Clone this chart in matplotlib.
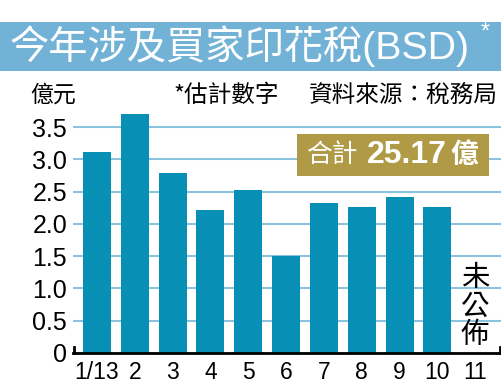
import matplotlib
matplotlib.use("Agg")
import matplotlib.pyplot as plt
from matplotlib.patches import Rectangle

# 每月涉及買家印花稅 (億元)
months = ["1/13", "2", "3", "4", "5", "6", "7", "8", "9", "10", "11"]
bsd = [3.12, 3.71, 2.79, 2.22, 2.53, 1.50, 2.32, 2.27, 2.42, 2.26]
yticks = [0, 0.5, 1.0, 1.5, 2.0, 2.5, 3.0, 3.5]
ytick_labels = ["0", "0.5", "1.0", "1.5", "2.0", "2.5", "3.0", "3.5"]

cjk = ["Noto Sans CJK TC", "DejaVu Sans"]
num = ["Liberation Sans", "Noto Sans CJK TC"]

bar_color = "#078fb5"
grid_color = "#8cc4e0"
banner_color = "#72b2d6"
gold = "#b09a45"

W, H = 502, 389
fig = plt.figure(figsize=(W / 100, H / 100), dpi=100)
fig.patch.set_facecolor("white")

def px(x0, y0, x1, y1):
    # pixel box (top-left origin) -> figure fraction
    return [x0 / W, 1 - y1 / H, (x1 - x0) / W, (y1 - y0) / H]

# title banner
fig.patches.append(Rectangle((0, 1 - 71 / H), 1, 49 / H, transform=fig.transFigure,
                             facecolor=banner_color, edgecolor="none", zorder=0))
fig.text(10 / W, 1 - 46 / H, "今年涉及買家印花稅(BSD)", color="white",
         fontsize=28.3, family=num, ha="left", va="center")
fig.text(485 / W, 1 - 33 / H, "*", color="white", fontsize=17,
         family=num, ha="center", va="center")

# subtitle line
fig.text(30 / W, 1 - 95 / H, "億元", fontsize=16.5, family=cjk, ha="left", va="center")
fig.text(173 / W, 1 - 95 / H, "*估計數字", fontsize=17, family=cjk, ha="left", va="center")
fig.text(498 / W, 1 - 95 / H, "資料來源：稅務局", fontsize=17, family=cjk,
         ha="right", va="center")

ax = fig.add_axes(px(72.7, 111, 501, 353))
x = list(range(len(months)))
ax.bar(x[:len(bsd)], bsd, width=0.74, color=bar_color, zorder=2)
ax.set_xlim(-0.64, 10.68)
ax.set_ylim(0, 3.75)

ax.set_yticks(yticks)
ax.set_yticklabels(ytick_labels, family=num, fontsize=18)
ax.set_xticks(x)
ax.set_xticklabels(months, family=num, fontsize=16.5)
ax.tick_params(axis="both", length=0)
ax.tick_params(axis="y", pad=4)
ax.tick_params(axis="x", pad=6)
ax.yaxis.grid(True, color=grid_color, lw=1.5, zorder=0)
ax.set_axisbelow(True)
for s in ["top", "left", "right"]:
    ax.spines[s].set_visible(False)
ax.spines["bottom"].set_linewidth(2)
ax.spines["bottom"].set_color("black")
ax.spines["bottom"].set_zorder(3)
for xe in (0.002, 0.998):
    ax.plot([xe, xe], [0, 0.025], transform=ax.transAxes, color="black",
            lw=2, clip_on=False, zorder=3)

# 11月未公佈
ax.text(10, 0.72, "未\n公\n佈", family=cjk, fontsize=20.5, ha="center", va="center",
        linespacing=0.92)

# 合計 box
fig.patches.append(Rectangle((297 / W, 1 - 176 / H), 192 / W, 42 / H,
                             transform=fig.transFigure, facecolor=gold,
                             edgecolor="none", zorder=5))
fig.text(307 / W, 1 - 155 / H, "合計", color="white", fontsize=18.5, family=cjk,
         ha="left", va="center", zorder=6)
fig.text(367 / W, 1 - 155 / H, "25.17", color="white", fontsize=23,
         family=num, weight="bold", ha="left", va="center", zorder=6)
fig.text(450 / W, 1 - 155 / H, "億", color="white", fontsize=20,
         family=cjk, weight="bold", ha="left", va="center", zorder=6)

fig.savefig("out.png", dpi=100)
